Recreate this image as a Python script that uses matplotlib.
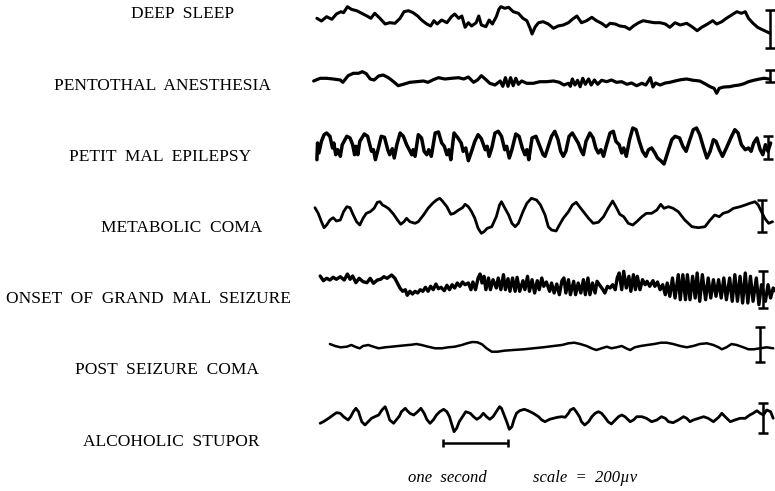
import matplotlib
matplotlib.use('Agg')
import matplotlib.pyplot as plt

# recording conditions, top to bottom
labels = ['DEEP  SLEEP', 'PENTOTHAL  ANESTHESIA', 'PETIT  MAL  EPILEPSY', 'METABOLIC  COMA',
          'ONSET  OF  GRAND  MAL  SEIZURE', 'POST  SEIZURE  COMA', 'ALCOHOLIC  STUPOR']

# traces: time in seconds, pen deflection (chart units, up = positive)
deep_sleep_t = [0.26, 0.33, 0.41, 0.49, 0.56, 0.63, 0.67, 0.73, 0.79, 0.87, 0.95, 1.03, 1.09, 1.15, 1.23, 1.31,
                1.38, 1.46, 1.54, 1.60, 1.67, 1.74, 1.81, 1.87, 1.95, 2.01, 2.06, 2.11, 2.18, 2.26, 2.33, 2.38,
                2.44, 2.49, 2.54, 2.59, 2.64, 2.71, 2.75, 2.79, 2.86, 2.91, 2.96, 3.02, 3.06, 3.09, 3.15, 3.21,
                3.28, 3.36, 3.43, 3.49, 3.54, 3.57, 3.62, 3.67, 3.74, 3.82, 3.90, 3.97, 4.05, 4.13, 4.19, 4.26,
                4.33, 4.41, 4.49, 4.56, 4.64, 4.71, 4.77, 4.85, 4.92, 5.00, 5.07, 5.13, 5.21, 5.28, 5.36, 5.45,
                5.54, 5.62, 5.69, 5.77, 5.85, 5.95, 6.03, 6.11, 6.18, 6.27, 6.35, 6.41, 6.49, 6.56, 6.64, 6.72,
                6.79, 6.85, 6.90, 6.97, 7.04, 7.10, 7.18, 7.23]
deep_sleep_v = [1.7, -1, 3.3, 0.7, 6, 8.3, 7.3, 13.3, 10.7, 9.3, 6.7, 4, 1.7, 6.7, 1.7, -4,
                -2.7, -3.3, 1.7, 8.3, 9.3, 7.3, 4, 0, -4, -6, -0.7, -4, 0, -2.7, 3.3, 6,
                1.7, 4, -7.3, -2.7, -6, -2.7, 4, -5, -6.7, 0, -4, 3.3, 10.7, 13.3, 11.7, 12.7,
                8.3, 6.7, 1.7, -0.7, -8.3, -14, -6.7, -2.7, -1.7, -4, -8.3, -6, -5, -2.7, 0.7, 4,
                -2.7, -0.7, 2.7, -0.7, -3.3, -6.7, -3.3, -4, -6, -6.7, -9.3, -6, -2.7, -0.7, -1.7, -2.7,
                -2.7, -4, -7.3, -2.7, -5, -3.3, -6.7, -10.7, -7.3, -4, -0.7, -4, -1.7, 1.7, 5, 8.3,
                6.7, 8.3, 1.7, -3.3, -7.3, -9.3, -11.7, -13.3]

pentothal_t = [0.21, 0.31, 0.41, 0.51, 0.62, 0.66, 0.74, 0.82, 0.90, 0.96, 1.02, 1.08, 1.14, 1.21, 1.28, 1.36,
               1.44, 1.51, 1.59, 1.69, 1.79, 1.90, 1.97, 2.05, 2.13, 2.23, 2.33, 2.44, 2.52, 2.59, 2.67, 2.73,
               2.79, 2.85, 2.92, 3.00, 3.08, 3.12, 3.16, 3.20, 3.24, 3.28, 3.32, 3.36, 3.41, 3.49, 3.59, 3.69,
               3.79, 3.90, 3.99, 4.06, 4.13, 4.16, 4.19, 4.23, 4.27, 4.31, 4.35, 4.39, 4.44, 4.48, 4.53, 4.58,
               4.64, 4.72, 4.79, 4.87, 4.95, 5.03, 5.10, 5.18, 5.26, 5.32, 5.36, 5.39, 5.43, 5.47, 5.54, 5.62,
               5.69, 5.77, 5.86, 5.95, 6.05, 6.15, 6.23, 6.31, 6.37, 6.41, 6.45, 6.52, 6.61, 6.68, 6.76, 6.83,
               6.90, 6.98, 7.07, 7.14, 7.22]
pentothal_v = [-1, 1.7, 1.7, 1, 0, -2.3, 4.3, 6.7, 6.7, 8.3, 6.3, 1, 0, 4, 5, 2.3,
               -1.7, -5.7, -4.3, -2.3, -1.7, -1, -2.3, 0.3, 2.3, 1, 1.7, 2.3, 1, 3, -2.3, 0,
               4.3, 1, -3.3, -5, -1, -6.3, 2.3, -6.3, 2.3, -5.7, 1.7, -4.3, -1, -3.3, -3.3, -1.7,
               -1.7, -1, -2.3, -5, -3.3, -6.3, 1, -5, -0.3, -6.7, 1.7, -4.3, 1, -5, 0, -4.3,
               -0.3, -1.7, 0, -2.3, -1.7, -4.3, -3, -5.7, -3.3, -5, -1, 2.3, -7, -3, -5, -3,
               -2.3, -1, 0.3, 1, -0.3, -1, -3.7, -6.7, -8.3, -13.3, -8.3, -7, -6.7, -5.7, -5, -3.7,
               -1.7, -0.3, 1, 1.7, 1]

petit_mal_t = [0.26, 0.27, 0.29, 0.33, 0.37, 0.41, 0.46, 0.50, 0.52, 0.55, 0.58, 0.62, 0.65, 0.72, 0.77, 0.81,
               0.84, 0.86, 0.89, 0.92, 0.99, 1.04, 1.08, 1.10, 1.13, 1.16, 1.20, 1.25, 1.30, 1.35, 1.38, 1.42,
               1.45, 1.49, 1.54, 1.59, 1.64, 1.68, 1.72, 1.74, 1.77, 1.82, 1.87, 1.91, 1.95, 1.98, 2.02, 2.08,
               2.13, 2.18, 2.22, 2.26, 2.29, 2.32, 2.37, 2.43, 2.48, 2.51, 2.55, 2.59, 2.64, 2.69, 2.74, 2.79,
               2.85, 2.88, 2.91, 2.95, 3.00, 3.05, 3.10, 3.15, 3.18, 3.22, 3.26, 3.32, 3.37, 3.42, 3.46, 3.49,
               3.52, 3.57, 3.63, 3.69, 3.74,
               3.77, 3.82, 3.87, 3.92, 3.97, 4.01, 4.05, 4.09, 4.14, 4.19, 4.25, 4.28, 4.33, 4.36, 4.40, 4.46,
               4.51, 4.55, 4.59, 4.63, 4.67, 4.71, 4.77, 4.82, 4.86, 4.91, 4.95, 4.98, 5.02, 5.07, 5.12, 5.17,
               5.22, 5.27, 5.32, 5.36, 5.41, 5.46, 5.50, 5.55, 5.60, 5.67, 5.72, 5.77, 5.84, 5.89, 5.94, 5.99,
               6.05, 6.10, 6.15, 6.21, 6.26, 6.31, 6.36, 6.40, 6.45, 6.50, 6.56, 6.64, 6.69, 6.74, 6.79, 6.85,
               6.90, 6.94, 6.98, 7.03, 7.08, 7.12, 7.16, 7.20, 7.24]
petit_mal_v = [-14.7, 2, -8, 3.7, 10.3, 12, 8.7, -3, 2, -9.7, -4.7, -11.3, 0.3, 8.7, 7, 0.3,
               -9.7, -1.3, -9.7, 3.7, 11, 8.7, -1.3, -6.3, -4.7, -14.7, -4.7, 8.7, 7.7, -4.7, -9.7, -3.7,
               -13, 0.3, 12, 8.7, 0.3, -4.7, -9.7, -4.7, -11.3, 10.3, 7, -6.3, -9.7, -4.7, -11.3, 12,
               13, 2, -1.3, -9.7, -4.7, -14.7, 12, 7, 2, -6.3, -3, -15.7, -6.3, 3.7, 10.3, 6.3,
               -4.7, -1.3, -11.3, -3, 12, 13.7, 8.7, -4.7, -1.3, -13, -4.7, 11, 8.7, -3, -9.7, -4.7,
               -14.7, 7, 8.7, -1.3, -9.7,
               -11.3, -1.3, 8.7, 13.7, 5.3, -6.3, -11.3, -6.3, 8.7, 12, 5.3, 2, -6.3, -9.7, 3.7, 12,
               7, -3, -8, -4.7, -11.3, -1.3, 12, 13.7, 3.7, 0.3, -8, -3, -11.3, 5.3, 17, 15.3,
               3.7, -6.3, -11.3, -4.7, -3, -8, -13, -15.7, -19, -4.7, 5.3, 8.7, 7, -1.3, -6.3, 3.7,
               15.3, 17, 10.3, -3, -13, -6.3, 5.3, 3.7, -4.7, -11.3, -3, 8.7, 15.3, 12, 0.3, -4.7,
               -3, -6.3, 2, 7, -4.7, -9.7, 0.3, -6.3, 2]

metabolic_t = [0.23, 0.28, 0.33, 0.37, 0.41, 0.46, 0.51, 0.56, 0.62, 0.67, 0.72, 0.77, 0.82, 0.87, 0.92, 0.97,
               1.02, 1.08, 1.14, 1.19, 1.23, 1.27, 1.32, 1.37, 1.44, 1.50, 1.55, 1.60, 1.64, 1.69, 1.77, 1.82,
               1.90, 1.97, 2.04, 2.10, 2.15, 2.19, 2.26, 2.32, 2.37, 2.44, 2.50, 2.54, 2.59, 2.64, 2.69, 2.74,
               2.79, 2.83, 2.88, 2.95, 3.02, 3.07, 3.10, 3.14, 3.21, 3.26, 3.31, 3.36, 3.43, 3.49, 3.56, 3.64,
               3.70, 3.77, 3.82, 3.87, 3.94, 3.99, 4.05, 4.13, 4.19, 4.25, 4.30, 4.36, 4.44, 4.51, 4.59, 4.67,
               4.74, 4.81, 4.86, 4.92, 4.98, 5.05, 5.12, 5.18, 5.26, 5.33, 5.41, 5.49, 5.55, 5.60, 5.67, 5.74,
               5.82, 5.92, 6.03, 6.13, 6.23, 6.31, 6.38, 6.45, 6.51, 6.59, 6.67, 6.77, 6.85, 6.92, 7.00, 7.05,
               7.10, 7.15, 7.21, 7.27]
metabolic_v = [7.3, 1.7, -6.7, -12.7, -10, -5, -2.7, -6, -5, 3.3, 8.3, 7.3, 0, -6.7, -10, -3.3,
               1.7, 3.3, 6.7, 12.7, 13.3, 10, 8.3, 6, 0.7, -5, -9.3, -6.7, -3.3, -6.7, -8.3, -6.7,
               0, 6.7, 11.7, 15, 16.7, 14, 8.3, 0.7, 1.7, 5, 7.3, 10.7, 8.3, 3.3, -3.3, -13.3,
               -18.3, -16.7, -13.3, -11.7, -1.7, 10, 13.3, 8.3, 0, -8.3, -11.7, -8.3, 3.3, 11.7, 16.7, 15,
               10, 0, -11.7, -15, -16, -10, -3.3, 3.3, 10, 12.7, 8.3, 3.3, -3.3, -8.3, -7.3, -1.7,
               6.7, 14, 8.3, 0.7, -1.7, -8.3, -10, -6.7, -1.7, 1.7, 1.7, 5, 10.7, 6.7, 8.3, 6.7,
               3.3, -5, -11.7, -12.7, -11.7, -5, 0, -1.7, 1.7, 3.3, 6.7, 8.3, 10, 11.7, 13.3, 10,
               3.3, -3.3, -8.3, -6.7]

grand_mal_t = [0.31, 0.36, 0.41, 0.46, 0.51, 0.56, 0.62, 0.68, 0.73, 0.77, 0.81, 0.86, 0.91, 0.97, 1.03, 1.08,
               1.13, 1.19, 1.24, 1.29, 1.34, 1.41, 1.46, 1.50, 1.54,
               1.58, 1.62, 1.65, 1.69, 1.73, 1.77, 1.81, 1.85, 1.89, 1.93, 1.97, 2.01, 2.05, 2.09, 2.13, 2.17,
               2.22, 2.26, 2.30, 2.34, 2.38, 2.42, 2.46, 2.50, 2.54, 2.59, 2.63, 2.66, 2.70, 2.74, 2.77, 2.80,
               2.83, 2.86, 2.90, 2.93, 2.97, 3.02, 3.05, 3.09, 3.13, 3.16, 3.20, 3.23, 3.27, 3.31, 3.34, 3.38,
               3.43, 3.46, 3.50, 3.53, 3.57, 3.61, 3.65, 3.68, 3.72, 3.75, 3.79, 3.84, 3.87, 3.91, 3.95, 3.99,
               4.03, 4.06, 4.09, 4.13, 4.16, 4.21, 4.24, 4.28, 4.32, 4.36, 4.39, 4.43, 4.46, 4.50, 4.54, 4.57,
               4.66, 4.69, 4.73, 4.77, 4.81, 4.85, 4.88, 4.91, 4.95, 4.98, 5.02, 5.06, 5.09, 5.13, 5.16, 5.19,
               5.23, 5.27, 5.31, 5.34, 5.38, 5.43, 5.46, 5.50, 5.54, 5.58, 5.62, 5.65, 5.69, 5.73, 5.77, 5.82,
               5.85, 5.89, 5.93, 5.96, 6.00, 6.04, 6.08, 6.11, 6.15, 6.19, 6.24, 6.28, 6.32, 6.36, 6.40, 6.44,
               6.48, 6.52, 6.56, 6.61, 6.65, 6.69, 6.73, 6.77, 6.81, 6.85, 6.89, 6.93, 6.97, 7.02, 7.06, 7.10,
               7.16, 7.20, 7.24, 7.28, 7.32]
grand_mal_v = [14, 9.3, 11.7, 10, 12.7, 10.7, 13.3, 10, 16, 10.7, 14, 7.3, 11.7, 8.3, 7.3, 11.7,
               6.7, 10, 10.7, 13.3, 11.7, 15, 11.7, 6.7, 1.7,
               -1.3, 0.3, -5.3, -1.3, -4, -1.3, -3, 0.3, -1.3, 2.7, -1.3, 3.7, 0.3, 6, 1.3, 2.7,
               -0.7, 4.7, 0.3, 5.3, 2, 7, 3.7, 8, 5.3, 7, 0.3, 8, 0.3, 12, 16, 7,
               13.7, 0.3, 12, 0.3, 10.3, 2, 12, 0.3, 15.3, 0.3, 11.3, -1.3, 12, -1.3, 12.7, -1.3,
               9.3, 0.3, 13.7, -1.3, 10.3, -3, 9.3, 0.3, 12, 3.7, 8, -1.3, 7, -3, 6, -4.7,
               9.3, 12, -3, 10.3, -4.7, 8.7, -4.7, 7, -3, 10.3, -4.7, 12, -4.7, 7, -3, 8.7,
               0.3, -3, 3.7, 2, 5.3, 0.3, 12, 17, 0.3, 18.7, 2, 13.7, -1.3, 15.3, 0.3, 13.7,
               0.3, 10.3, 5.3, 8.7, 3.7, 9.3, 3.7, 8, 0.3, 5.3, -4.7, 7, -6.3, 12, -8, 15.3,
               -9.7, 15.3, -9.7, 15.3, -9.7, 13.7, -8, 17, -11.3, 15.3, -9.7, 12, -8, 10.3, -6.3, 10.3,
               -8, 12, -9.7, 12, -11.3, 15.3, -11.3, 13.7, -13, 17, -13, 13.7, -11.3, 12, -14.7, 5.3,
               -11.3, 5.3, -8, 2, -1.3]

post_seizure_t = [0.46, 0.54, 0.62, 0.72, 0.79, 0.87, 0.92, 0.97, 1.05, 1.13, 1.21, 1.31, 1.41, 1.51, 1.62, 1.72,
                  1.79, 1.87, 1.97, 2.08, 2.18, 2.28, 2.38, 2.49, 2.57, 2.65, 2.73, 2.80, 2.87, 2.95, 3.04, 3.14,
                  3.28, 3.44, 3.59, 3.74, 3.90, 4.03, 4.13, 4.22, 4.31, 4.41, 4.50, 4.56, 4.64, 4.72, 4.79, 4.87,
                  4.95, 5.03, 5.08, 5.15, 5.24, 5.34, 5.45, 5.55, 5.64, 5.74, 5.85, 5.95, 6.05, 6.15, 6.26, 6.36,
                  6.44, 6.49, 6.56, 6.64, 6.72, 6.82, 6.90, 6.98, 7.08, 7.18, 7.28]
post_seizure_v = [4, 2, 0.7, 1.3, 3, 0.7, -0.3, 2, 3, 1.3, -0.3, 0.7, 1.3, 2, 2.7, 3.3,
                  4, 3, 1.3, -0.3, -0.3, 0.7, 1.3, 3, 4.7, 6, 5.7, 3.7, -0.3, -3.7, -3.7, -2.7,
                  -2, -1.3, -0.3, 0.7, 2, 3, 4.7, 5.3, 4, 2, -0.7, -2, -0.3, 1.3, -0.3, 0.7,
                  2, -0.7, -2, 0.7, 2, 3, 4, 5.3, 5.3, 4, 2, 0.7, 2, 4, 4.7, 3,
                  0.7, -1.3, 0.7, 4, 3, 0.7, -1.3, -1.3, -0.3, 0.7, -0.3]

alcoholic_t = [0.31, 0.36, 0.44, 0.51, 0.56, 0.62, 0.67, 0.74, 0.78, 0.82, 0.86, 0.90, 0.95, 1.00, 1.05, 1.10,
               1.15, 1.21, 1.26, 1.31, 1.34, 1.38, 1.44, 1.49, 1.53, 1.56, 1.62, 1.65, 1.69, 1.75, 1.81, 1.86,
               1.91, 1.95, 2.00, 2.05, 2.10, 2.15, 2.21, 2.26, 2.30, 2.33, 2.37, 2.41, 2.45, 2.50, 2.55, 2.62,
               2.67, 2.72, 2.77, 2.82, 2.87, 2.92, 2.97, 3.02, 3.07, 3.10, 3.14, 3.18, 3.22, 3.26, 3.29, 3.33,
               3.38, 3.45, 3.51, 3.59, 3.67, 3.72, 3.77, 3.84, 3.90, 3.96, 4.03, 4.08, 4.13, 4.16, 4.21, 4.25,
               4.30, 4.33, 4.38, 4.44, 4.49, 4.54, 4.59, 4.64, 4.69, 4.74, 4.79, 4.85, 4.90, 4.95, 5.00, 5.08,
               5.13, 5.18, 5.26, 5.33, 5.41, 5.49, 5.56, 5.62, 5.67, 5.74, 5.82, 5.90, 5.95, 6.00, 6.05, 6.13,
               6.21, 6.28, 6.36, 6.44, 6.49, 6.54, 6.62, 6.69, 6.77, 6.85, 6.92, 6.97, 7.03, 7.08, 7.13, 7.18,
               7.24, 7.28]
alcoholic_v = [-5.3, -3.7, -0.3, 3, 5.3, 4.7, 1.3, -2, 1.3, 6.3, 9.7, 6.3, -3.7, -7, -3.7, -0.3,
               1.3, 3, 8, 11.3, 6.3, -2, -5.3, -1.3, 2, 6.3, 9.7, 7.3, 4.7, 3, 6.3, 9.7,
               4.7, -1.3, -5.3, -2, 3, 6.3, 8.7, 6.3, 1.3, -5.3, -13.7, -10.3, -3.7, 1.3, 6.3, 4.7,
               1.3, -1.3, 0.7, 4.7, 1.3, -1.3, 1.3, 6.3, 11.3, 9.7, 3, -3.7, -11.3, -8.7, -2, 4.7,
               7.3, 8.7, 7.3, 4.7, 1.3, -2, -3.7, -1.3, -0.3, 0.7, 1.3, 0.7, 4.7, 8, 9.7, 6.3,
               1.3, -3.7, -7, -3.7, 1.3, 4.7, 6.3, 4.7, 0.7, -3.7, -6, -2, 1.3, 3, 1.3, -3.7,
               -2, 1.3, 1.3, -0.3, -3.7, -2, 1.3, -0.3, -3.7, -4.7, -2, 1.3, -0.3, -3.7, -2, -0.3,
               1.3, -0.3, -3.7, 0.7, 4.7, 1.3, -3.7, -2, -0.3, -0.3, 3, 4.7, 7.3, 4.7, 3, 8,
               6.3, -0.3]

# calibration bars at the end of each trace: time, top, bottom (same units as traces)
scale_t = [7.23, 7.23, 7.20, 7.10, 7.12, 7.08, 7.13]
scale_top = [10, 10, 9, 15, 19, 21, 15]
scale_bottom = [-28, -2, -14, -17, -18, -14, -15]

# one second marker
second_start = 2.2
second_end = 3.2

traces = [(deep_sleep_t, deep_sleep_v), (pentothal_t, pentothal_v), (petit_mal_t, petit_mal_v),
          (metabolic_t, metabolic_v), (grand_mal_t, grand_mal_v), (post_seizure_t, post_seizure_v),
          (alcoholic_t, alcoholic_v)]

# layout
row_y = [20, 80, 145, 215, 290, 348, 418]
row_lw = [2.2, 2.3, 2.5, 2.0, 2.4, 1.8, 2.0]
label_x = [0.235, 0.210, 0.206, 0.234, 0.191, 0.215, 0.221]
label_y = [0.971, 0.825, 0.680, 0.536, 0.391, 0.246, 0.100]
serif = 'Liberation Serif'

fig = plt.figure(figsize=(7.75, 4.91), dpi=100)
ax = fig.add_axes([0, 0, 1, 1])
ax.set_xlim(-300 / 65, 475 / 65)
ax.set_ylim(491, 0)
ax.axis('off')

for i, (t, v) in enumerate(traces):
    ax.plot(t, [row_y[i] - d for d in v], color='black', lw=row_lw[i],
            solid_joinstyle='round', solid_capstyle='round')
    mid = row_y[i] - (scale_top[i] + scale_bottom[i]) / 2
    half = (scale_top[i] - scale_bottom[i]) / 2
    ax.errorbar(scale_t[i], mid, yerr=half, fmt='none', ecolor='black',
                elinewidth=1.8, capsize=3.5, capthick=1.8)
    fig.text(label_x[i], label_y[i], labels[i], ha='center', va='center',
             family=serif, fontsize=12.5)

ax.errorbar((second_start + second_end) / 2, 443, xerr=(second_end - second_start) / 2,
            fmt='none', ecolor='black', elinewidth=1.8, capsize=3, capthick=1.8)

fig.text(0.577, 0.026, 'one  second', ha='center', va='center', family=serif,
         style='italic', fontsize=12)
fig.text(0.755, 0.026, 'scale  =  200\u00b5v', ha='center', va='center', family=serif,
         style='italic', fontsize=12)

plt.savefig('out.png', dpi=100)
